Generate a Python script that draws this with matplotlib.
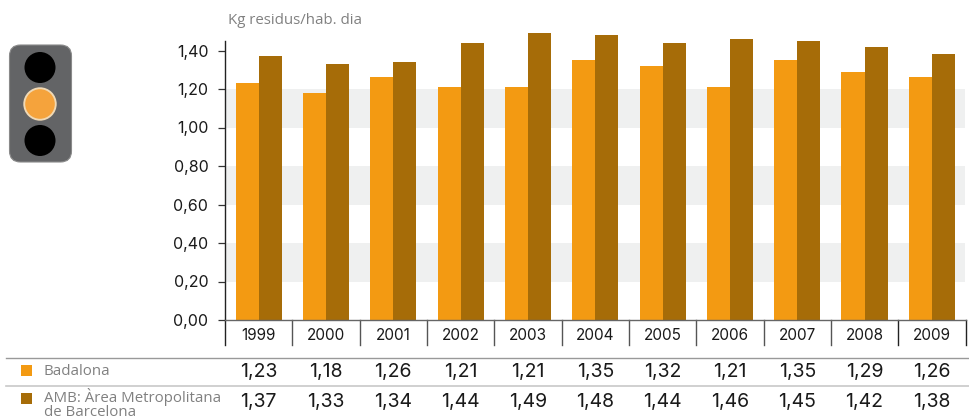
import matplotlib
matplotlib.use('Agg')
import matplotlib.pyplot as plt
from matplotlib.patches import FancyBboxPatch, Circle, Rectangle
from matplotlib.transforms import blended_transform_factory
import numpy as np

years = ['1999', '2000', '2001', '2002', '2003', '2004', '2005', '2006', '2007', '2008', '2009']
badalona = [1.23, 1.18, 1.26, 1.21, 1.21, 1.35, 1.32, 1.21, 1.35, 1.29, 1.26]
amb = [1.37, 1.33, 1.34, 1.44, 1.49, 1.48, 1.44, 1.46, 1.45, 1.42, 1.38]
yticks = [0, 0.2, 0.4, 0.6, 0.8, 1.0, 1.2, 1.4]
bands = [(0.2, 0.4), (0.6, 0.8), (1.0, 1.2)]

ORANGE = '#f39a12'
BROWN = '#a66c08'
GREY = '#808080'
BLACK = '#1a1a1a'
plt.rcParams['font.family'] = ['Inter', 'DejaVu Sans']
LABEL_FONT = ['Open Sans', 'DejaVu Sans']

W, H = 970, 420
fig = plt.figure(figsize=(9.7, 4.2), dpi=100)

# page layer in pixels for the traffic light and table rules
bg = fig.add_axes([0, 0, 1, 1])
bg.set_xlim(0, W)
bg.set_ylim(H, 0)
bg.axis('off')

# main axes, 0 at y=320 and 1.40 at y=50.5
left, right, bottom, top = 225, 965.5, 320, 28
ax = fig.add_axes([left / W, 1 - bottom / H, (right - left) / W, (bottom - top) / H])
ax.patch.set_alpha(0)
ax.set_xlim(0, len(years))
ax.set_ylim(0, (bottom - top) / 192.5)

for b0, b1 in bands:
    ax.axhspan(b0, b1, color='#eff0f0', lw=0, zorder=0)

x = np.arange(len(years)) + 0.5
bw = 0.342
ax.bar(x - bw / 2, badalona, bw, color=ORANGE, zorder=2)
ax.bar(x + bw / 2, amb, bw, color=BROWN, zorder=2)

for s in ['top', 'right']:
    ax.spines[s].set_visible(False)
ax.spines['left'].set_bounds(0, 1.45)
ax.spines['left'].set_linewidth(1.0)
ax.spines['left'].set_color('#222222')
ax.spines['bottom'].set_linewidth(1.0)
ax.spines['bottom'].set_color('#666666')

ax.set_yticks(yticks)
ax.set_yticklabels([('%.2f' % v).replace('.', ',') for v in yticks], fontsize=11.5, color=BLACK)
ax.tick_params(axis='y', length=5, width=0.9, color='#333333', pad=7)
ax.set_xticks([])

# year cells under the axis
for i, yr in enumerate(years):
    ax.text(i + 0.5, -0.083, yr, ha='center', va='center', fontsize=11, color=BLACK, clip_on=False)
for i in range(len(years) + 1):
    ax.plot([i, i], [0, -0.13], color='#555555' if 0 < i < 10 else '#222222', lw=1.0, clip_on=False)

bg.text(228, 24, 'Kg residus/hab. dia', ha='left', va='baseline', fontsize=10.8, color=GREY, family=LABEL_FONT)

# data table
bg.plot([6, 970], [357.5, 357.5], color='#999999', lw=1.0)
bg.plot([6, 970], [386, 386], color='#c8c8c8', lw=1.2)
bg.add_patch(Rectangle((21, 365), 11, 11, color=ORANGE, lw=0))
bg.add_patch(Rectangle((21, 393), 11, 11, color=BROWN, lw=0))
bg.text(44, 375, 'Badalona', ha='left', va='baseline', fontsize=10.8, color=GREY, family=LABEL_FONT)
bg.text(44, 415.5, 'AMB: Àrea Metropolitana\nde Barcelona', ha='left', va='baseline', fontsize=10.8,
        color=GREY, family=LABEL_FONT, linespacing=0.85)

# table values follow the bar x scale, rows sit at page pixels
row = blended_transform_factory(ax.transData, bg.transData)
for i in range(len(years)):
    ax.text(x[i], 372, ('%.2f' % badalona[i]).replace('.', ','), transform=row, ha='center', va='center',
            fontsize=14, color=BLACK, clip_on=False)
    ax.text(x[i], 401.5, ('%.2f' % amb[i]).replace('.', ','), transform=row, ha='center', va='center',
            fontsize=14, color=BLACK, clip_on=False)

# traffic light
bg.add_patch(FancyBboxPatch((9.5, 45), 62, 117, boxstyle='round,pad=0,rounding_size=11',
                            fc='#636466', ec='#8a8a8a', lw=0.8))
bg.add_patch(Circle((40, 67.5), 15.5, fc='black', lw=0))
bg.add_patch(Circle((40, 104), 16.7, fc='#f0d9b5', lw=0))
bg.add_patch(Circle((40, 104), 14.8, fc='#f5a33c', lw=0))
bg.add_patch(Circle((40, 140.5), 15.5, fc='black', lw=0))

fig.savefig('out.png', dpi=100)
